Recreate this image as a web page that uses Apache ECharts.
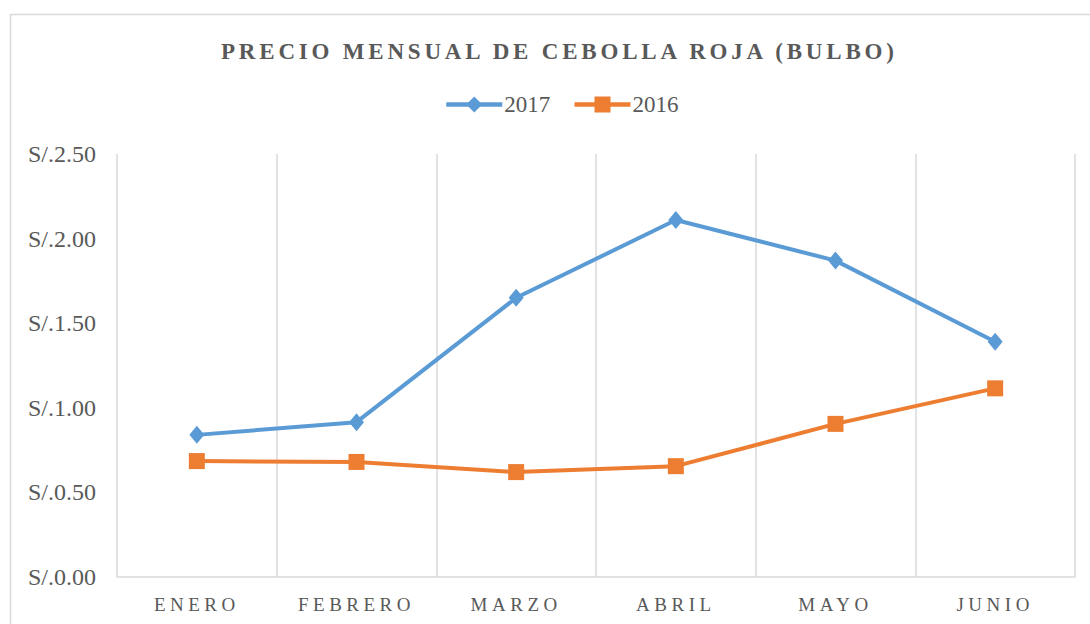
<!DOCTYPE html>
<html>
<head>
<meta charset="utf-8">
<script src="https://cdn.jsdelivr.net/npm/echarts@6/dist/echarts.min.js"></script>
<style>
  html, body { margin: 0; padding: 0; background: #fff; }
  #chart { width: 1090px; height: 624px; }
  /* letter spacing like the Excel original (svg text only) */
  #chart text[style*="bold"] { letter-spacing: 3.8px; }
  #chart text[style*="19px"] { letter-spacing: 4.5px; }
</style>
</head>
<body>
<div id="chart"></div>
<script>
const titleText = "PRECIO MENSUAL DE CEBOLLA ROJA (BULBO)";
const months = ["ENERO", "FEBRERO", "MARZO", "ABRIL", "MAYO", "JUNIO"];
const precio2017 = [0.84, 0.915, 1.65, 2.11, 1.87, 1.39];
const precio2016 = [0.685, 0.68, 0.62, 0.655, 0.905, 1.115];
const yTicks = [0, 0.5, 1, 1.5, 2, 2.5];

const textColor = "#595959";
const gridColor = "#d9d9d9";
const serif = "Liberation Serif";

const chart = echarts.init(document.getElementById("chart"), null, { renderer: "svg" });

chart.setOption({
  animation: false,
  backgroundColor: "#fff",
  textStyle: { fontFamily: serif },
  title: {
    text: titleText,
    left: 216,
    top: 35,
    textStyle: {
      fontFamily: serif,
      fontWeight: "bold",
      fontSize: 23,
      color: textColor,
    },
  },
  legend: {
    top: 88,
    left: 439,
    itemWidth: 56,
    itemHeight: 20,
    itemGap: 22,
    lineStyle: { width: 4.5 },
    textStyle: { fontFamily: serif, fontSize: 23, color: textColor, padding: [0, 0, 0, -3] },
    data: ["2017", "2016"],
  },
  graphic: [
    {
      type: "rect",
      silent: true,
      shape: { x: 10.5, y: 14.5, width: 1200, height: 800 },
      style: { fill: "none", stroke: gridColor, lineWidth: 1.5 },
    },
  ],
  grid: {
    left: 117,
    right: 15,
    top: 154,
    bottom: 47,
  },
  xAxis: {
    type: "category",
    data: months,
    boundaryGap: true,
    axisTick: { show: false },
    axisLine: { lineStyle: { color: gridColor, width: 1.5 } },
    axisLabel: { color: textColor, fontSize: 19, fontFamily: serif, margin: 18 },
    splitLine: { show: true, showMinLine: true, showMaxLine: true, lineStyle: { color: gridColor, width: 1.5 } },
  },
  yAxis: {
    type: "value",
    min: yTicks[0],
    max: yTicks[yTicks.length - 1],
    interval: 0.5,
    axisLine: { show: false },
    axisTick: { show: false },
    splitLine: { show: false },
    axisLabel: {
      color: textColor,
      fontSize: 24,
      fontFamily: serif,
      margin: 21,
      formatter: (v) => "S/." + v.toFixed(2),
    },
  },
  series: [
    {
      name: "2017",
      type: "line",
      data: precio2017,
      symbol: "diamond",
      symbolSize: [15, 18],
      lineStyle: { width: 4, color: "#5b9bd5" },
      itemStyle: { color: "#5b9bd5" },
    },
    {
      name: "2016",
      type: "line",
      data: precio2016,
      symbol: "rect",
      symbolSize: 16,
      lineStyle: { width: 4, color: "#ed7d31" },
      itemStyle: { color: "#ed7d31" },
    },
  ],
});
</script>
</body>
</html>
